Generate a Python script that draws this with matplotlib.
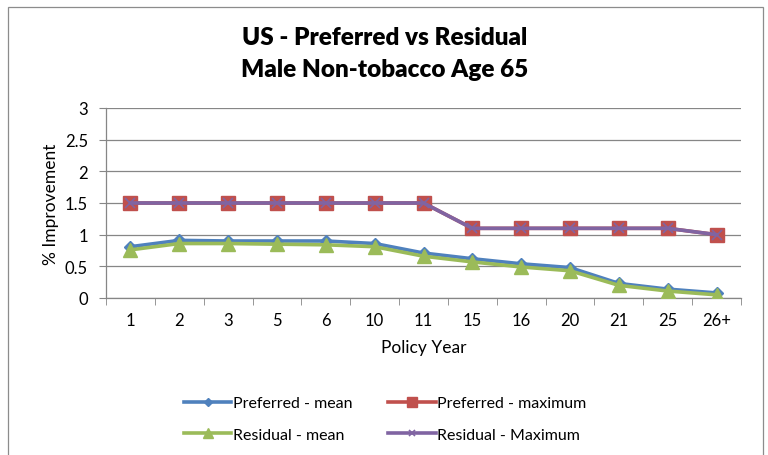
import matplotlib
matplotlib.use("Agg")
import matplotlib.pyplot as plt
from matplotlib.patches import Rectangle

plt.rcParams['font.family'] = ['Lato', 'DejaVu Sans']

policy_years = ["1", "2", "3", "5", "6", "10", "11", "15", "16", "20", "21", "25", "26+"]
preferred_mean = [0.81, 0.91, 0.90, 0.90, 0.90, 0.86, 0.71, 0.62, 0.54, 0.48, 0.23, 0.14, 0.08]
preferred_max = [1.5, 1.5, 1.5, 1.5, 1.5, 1.5, 1.5, 1.1, 1.1, 1.1, 1.1, 1.1, 1.0]
residual_mean = [0.76, 0.86, 0.86, 0.85, 0.84, 0.81, 0.66, 0.57, 0.49, 0.43, 0.20, 0.11, 0.05]
residual_max = [1.5, 1.5, 1.5, 1.5, 1.5, 1.5, 1.5, 1.1, 1.1, 1.1, 1.1, 1.1, 1.0]

fig = plt.figure(figsize=(7.68, 4.56), dpi=100)
fig.patch.set_facecolor("white")

# chart frame
fig.patches.append(Rectangle((8 / 768, -0.05), 755 / 768, (448 / 456) + 0.05,
                             transform=fig.transFigure, fill=False,
                             edgecolor="#8c8c8c", linewidth=0.9))

ax = fig.add_axes([106 / 768, 1 - 299 / 456, 635 / 768, 190 / 456])
x = list(range(len(policy_years)))

h_pm, = ax.plot(x, preferred_mean, color="#4F81BD", lw=2.6, marker="D", ms=6,
                label="Preferred - mean", zorder=3)
h_px, = ax.plot(x, preferred_max, color="#C0504D", lw=2.6, marker="s", ms=10,
                label="Preferred - maximum", zorder=3)
h_rm, = ax.plot(x, residual_mean, color="#9BBB59", lw=2.6, marker="^", ms=10,
                label="Residual - mean", zorder=4)
h_rx, = ax.plot(x, residual_max, color="#8064A2", lw=2.6, marker="x", ms=7, mew=1.2,
                label="Residual - Maximum", zorder=5)

ax.set_xlim(-0.5, len(policy_years) - 0.5)
ax.set_ylim(0, 3)
ax.set_yticks([0, 0.5, 1, 1.5, 2, 2.5, 3])
ax.set_yticklabels(["0", "0.5", "1", "1.5", "2", "2.5", "3"])
ax.set_xticks(x)
ax.set_xticklabels(policy_years)
ax.set_xticks([i - 0.5 for i in range(len(policy_years) + 1)], minor=True)
ax.tick_params(axis="x", which="major", length=0, pad=10, labelsize=12)
ax.tick_params(axis="x", which="minor", length=5, color="#868686", direction="out")
ax.tick_params(axis="y", length=5, color="#868686", direction="out", pad=8, labelsize=12)

ax.grid(axis="y", color="#868686", lw=0.9)
ax.set_axisbelow(True)
for s in ["top", "right"]:
    ax.spines[s].set_visible(False)
for s in ["left", "bottom"]:
    ax.spines[s].set_color("#868686")
    ax.spines[s].set_linewidth(0.9)

ax.set_xlabel("Policy Year", fontsize=12.5, labelpad=8)
ax.set_ylabel("% Improvement", fontsize=12.5, labelpad=4)

fig.text(385 / 768, 1 - 54 / 456, "US - Preferred vs Residual\nMale Non-tobacco Age 65",
         ha="center", va="center", fontsize=17.5, fontweight="heavy", linespacing=1.6)

fig.legend(handles=[h_pm, h_rm, h_px, h_rx], loc="center",
           bbox_to_anchor=(385 / 768, 1 - 420 / 456), ncol=2,
           frameon=False, fontsize=11.5, handlelength=3.0, handletextpad=0.1,
           columnspacing=2.2, labelspacing=1.1, markerscale=0.7)

fig.savefig("out.png", dpi=100, facecolor="white")
